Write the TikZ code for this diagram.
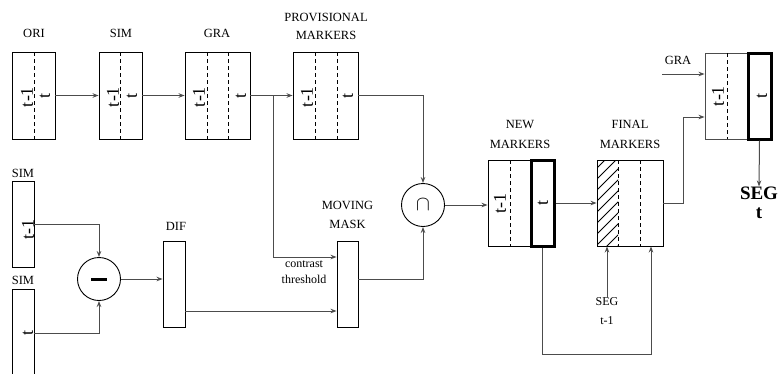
\documentclass[tikz,border=0pt]{standalone}
\usepackage{fontspec}
\setmainfont{Liberation Serif}
\usetikzlibrary{arrows.meta}
\tikzset{
  box/.style={draw=black, line width=0.9pt, inner sep=0pt},
  thickbox/.style={draw=black, line width=3pt, inner sep=0pt},
  conn/.style={draw=black!70, line width=1pt, -{Stealth[length=6pt,width=4.5pt]}},
  plain/.style={draw=black!70, line width=1pt},
  sep/.style={draw=black, line width=0.9pt, dash pattern=on 4pt off 3pt},
  lbl/.style={font=\fontsize{12.5}{14}\selectfont, inner sep=0pt},
  smalllbl/.style={font=\fontsize{12}{14}\selectfont, inner sep=0pt},
  bxt/.style={font=\fontsize{18}{18}\selectfont, inner sep=0pt, rotate=90},
  bold/.style={font=\fontsize{19}{20}\selectfont\bfseries, inner sep=0pt},
  op/.style={circle, draw=black, line width=0.9pt, minimum size=43pt, inner sep=0pt},
}
\begin{document}
\begin{tikzpicture}[x=1pt,y=-1pt]
\clip (0,0) rectangle (778,373);
\fill[white] (0,0) rectangle (778,373);

% top row boxes
\node[box, minimum width=43pt, minimum height=87pt] (ori) at (33.5,95.5) {};
\node[box, minimum width=43pt, minimum height=87pt] (sim1) at (120.5,95.5) {};
\node[box, minimum width=65pt, minimum height=87pt] (gra) at (217.5,95.5) {};
\node[box, minimum width=65pt, minimum height=87pt] (prov) at (325.5,95.5) {};
\draw[sep] (34,52) -- (34,139);
\draw[sep] (120,52) -- (120,139);
\draw[sep] (207,52) -- (207,139);
\draw[sep] (228,52) -- (228,139);
\draw[sep] (315,52) -- (315,139);
\draw[sep] (337,52) -- (337,139);
\node[bxt] (orim) at (27,97) {t-1};
\node[bxt] (orit) at (45,96) {t};
\node[bxt] (sim1m) at (113,97) {t-1};
\node[bxt] (sim1t) at (132,96) {t};
\node[bxt] (gram) at (199,97) {t-1};
\node[bxt] (grat) at (241,96) {t};
\node[bxt] (provm) at (307,97) {t-1};
\node[bxt] (provt) at (348,96) {t};
\node[lbl] (lori) at (34,33) {ORI};
\node[lbl] (lsim1) at (121,33) {SIM};
\node[lbl] (lgra) at (217,33) {GRA};
\node[lbl] (lprov1) at (326,17) {PROVISIONAL};
\node[lbl] (lprov2) at (326,35) {MARKERS};

% left column
\node[box, minimum width=22pt, minimum height=86pt] (sima) at (23,224) {};
\node[box, minimum width=22pt, minimum height=90pt] (simb) at (23,334) {};
\node[bxt] (simat) at (28,229) {t-1};
\node[bxt] (simbt) at (28,333) {t};
\node[lbl] (lsima) at (23,173) {SIM};
\node[lbl] (lsimb) at (23,280) {SIM};
\node[op] (minus) at (99,279) {};
\draw[line width=3pt] (91,279) -- (107,279);

\node[box, minimum width=22pt, minimum height=86pt] (dif) at (174,284) {};
\node[lbl] (ldif) at (176,226) {DIF};
\node[box, minimum width=21pt, minimum height=86pt] (mm) at (347.5,284) {};
\node[lbl] (lmm1) at (347.5,205) {MOVING};
\node[lbl] (lmm2) at (347.5,224) {MASK};
\node[smalllbl] (lct1) at (304,264) {contrast};
\node[smalllbl] (lct2) at (304,279) {threshold};

% intersection
\node[op] (cap) at (423,205) {\fontsize{22}{22}\selectfont$\cap$};

% new markers
\node[box, minimum width=66pt, minimum height=86pt] (newm) at (521,203) {};
\draw[sep] (510,160) -- (510,246);
\node[thickbox, minimum width=23pt, minimum height=86pt] (newt) at (542.5,203) {};
\node[bxt] (newmt) at (500,203) {t-1};
\node[bxt] (newtt) at (543,203) {t};
\node[lbl] (lnew1) at (520,124) {NEW};
\node[lbl] (lnew2) at (520,144) {MARKERS};

% final markers
\node[box, minimum width=66pt, minimum height=86pt] (finm) at (630,203) {};
\begin{scope}
\clip (597,160) rectangle (618,246);
\foreach \c in {168,179,...,290} \draw[line width=0.8pt] (597,\c) -- ++(30,-30);
\end{scope}
\draw[sep] (618,160) -- (618,246);
\draw[sep] (640,160) -- (640,246);
\node[lbl] (lfin1) at (630,124) {FINAL};
\node[lbl] (lfin2) at (630,144) {MARKERS};
\node[smalllbl] (segm) at (607,302) {SEG};
\node[smalllbl] (segm2) at (607,321) {t-1};

% result
\node[box, draw=black!70, minimum width=66pt, minimum height=86pt] (res) at (738,96) {};
\draw[sep] (727,53) -- (727,139);
\node[thickbox, minimum width=23pt, minimum height=86pt] (rest) at (759.5,96) {};
\node[bxt] (resm) at (718,96) {t-1};
\node[bxt] (rest2) at (762,96) {t};
\node[lbl] (lgra2) at (678,60) {GRA};
\coordinate (grain) at (662,74);
\node[bold] (segt) at (759,193) {SEG};
\node[bold] (segt2) at (759,213) {t};

% connectors
\draw[conn] (ori.east) -- (sim1.west);
\draw[conn] (sim1.east) -- (gra.west);
\draw[conn] (gra.east) -- (prov.west);
\coordinate (br) at (273,95.5);
\draw[plain] (br) -- (273,257);
\draw[conn] (273,257) -- ([yshift=27pt]mm.west);
\draw[conn] (prov.east) -| (cap.north);
\draw[conn] (sima.east) -| (minus.north);
\draw[conn] ([yshift=1pt]simb.east) -| (minus.south);
\draw[conn] (minus.east) -- (minus.east -| dif.west);
\draw[conn] ([yshift=-27pt]dif.east) -- ([yshift=-27pt]mm.west);
\draw[conn] ([yshift=5pt]mm.east) -| (cap.south);
\draw[conn] (cap.east) -- (cap.east -| newm.west);
\draw[conn] (newt.east) -- (newt.east -| finm.west);
\draw[conn] (finm.east) -- (683,203) |- ([yshift=-21pt]res.west);
\draw[conn] (grain) -- (grain -| res.west);
\draw[conn] (rest.south) -- (segt.north);
\draw[conn] (segm.north) -- (segm.north |- finm.south);
\draw[conn] (newt.south) -- ++(0,107) -| ([xshift=21pt]finm.south);
\end{tikzpicture}
\end{document}
